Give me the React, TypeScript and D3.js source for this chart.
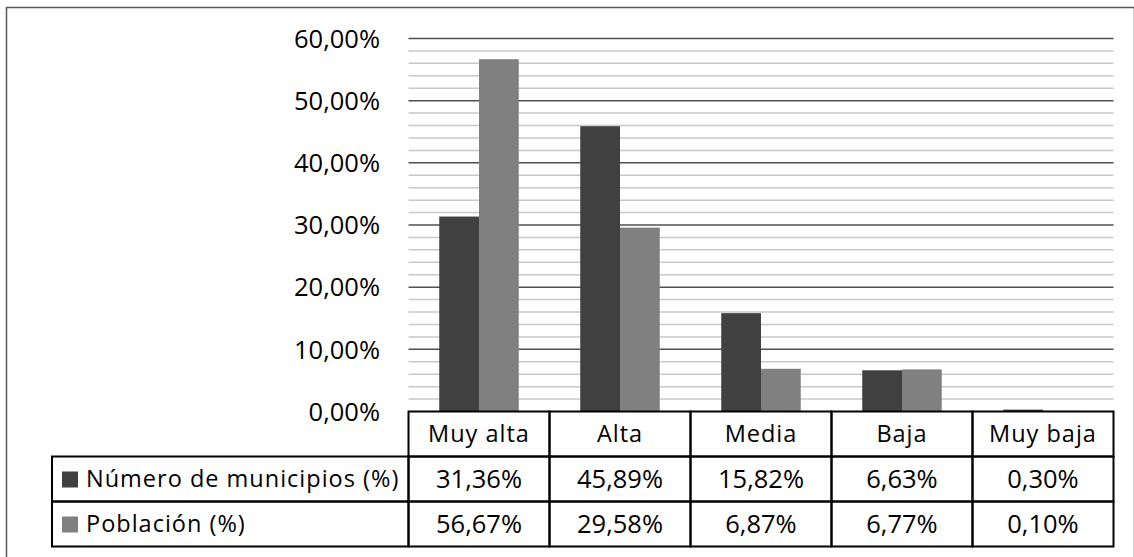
import { useEffect, useRef } from 'react'
import * as d3 from 'd3'

const categories = ['Muy alta', 'Alta', 'Media', 'Baja', 'Muy baja']
const seriesNames = ['Número de municipios (%)', 'Población (%)']
const municipios = [31.36, 45.89, 15.82, 6.63, 0.3]
const poblacion = [56.67, 29.58, 6.87, 6.77, 0.1]
const yTicks = [0, 10, 20, 30, 40, 50, 60]

const colors = ['#404040', '#808080']
const fmt = (v: number) => v.toFixed(2).replace('.', ',') + '%'

export default function App() {
  const svgRef = useRef<SVGSVGElement>(null)

  useEffect(() => {
    if (!svgRef.current) return
    const svg = d3.select(svgRef.current)
    svg.selectAll('*').remove()

    const W = 1134
    const H = 557
    svg.attr('width', W).attr('height', H)

    const font = '"Open Sans", sans-serif'
    const numSize = '25.5px'
    const wordSize = '23.5px'
    const wordSpacing = '1px'
    const series = [municipios, poblacion]

    // outer frame (cut off at right/bottom like the original)
    svg.append('rect')
      .attr('x', 6.5).attr('y', 7.5)
      .attr('width', W - 6).attr('height', H)
      .attr('fill', 'none')
      .attr('stroke', '#595959')
      .attr('stroke-width', 1.5)

    const x = d3.scaleBand<string>()
      .domain(categories)
      .range([408.5, 1113.5])
    const y = d3.scaleLinear()
      .domain([0, 60])
      .range([411.5, 38.5])

    const gap = x.bandwidth() * 0.218
    const xSub = d3.scaleBand<number>()
      .domain([0, 1])
      .range([gap, x.bandwidth() - gap])

    // minor gridlines
    const minor = d3.range(2, 60, 2).filter(v => v % 10 !== 0)
    svg.append('g')
      .selectAll('line')
      .data(minor)
      .join('line')
      .attr('x1', 408.5).attr('x2', 1113.5)
      .attr('y1', d => y(d)).attr('y2', d => y(d))
      .attr('stroke', '#c8c8c8')
      .attr('stroke-width', 1.5)

    // major gridlines
    svg.append('g')
      .selectAll('line')
      .data(yTicks.filter(v => v > 0))
      .join('line')
      .attr('x1', 408.5).attr('x2', 1113.5)
      .attr('y1', d => y(d)).attr('y2', d => y(d))
      .attr('stroke', '#505050')
      .attr('stroke-width', 1.5)

    // y tick labels
    svg.append('g')
      .selectAll('text')
      .data(yTicks)
      .join('text')
      .attr('x', 380)
      .attr('y', d => y(d))
      .attr('dy', '0.36em')
      .attr('text-anchor', 'end')
      .attr('fill', '#000')
      .style('font-family', font)
      .style('font-size', numSize)
      .text(d => fmt(d))

    // bars
    series.forEach((vals, si) => {
      svg.append('g')
        .selectAll('rect')
        .data(vals)
        .join('rect')
        .attr('x', (_, i) => x(categories[i])! + xSub(si)!)
        .attr('width', xSub.bandwidth())
        .attr('y', d => y(d))
        .attr('height', d => y(0) - y(d))
        .attr('fill', colors[si])
    })

    // data table
    const rowTop = [411.5, 456.5, 501.5]
    const rowH = 45
    const legendLeft = 52
    const t = svg.append('g')

    // header row
    categories.forEach(c => {
      t.append('rect')
        .attr('x', x(c)!).attr('y', rowTop[0])
        .attr('width', x.bandwidth()).attr('height', rowH)
        .attr('fill', 'none').attr('stroke', '#000').attr('stroke-width', 2)
      t.append('text')
        .attr('x', x(c)! + x.bandwidth() / 2)
        .attr('y', rowTop[0] + rowH / 2)
        .attr('dy', '0.36em')
        .attr('text-anchor', 'middle')
        .style('font-family', font)
        .style('font-size', wordSize)
        .style('letter-spacing', wordSpacing)
        .text(c)
    })

    series.forEach((vals, si) => {
      const top = rowTop[si + 1]
      t.append('rect')
        .attr('x', legendLeft).attr('y', top)
        .attr('width', 408.5 - legendLeft).attr('height', rowH)
        .attr('fill', 'none').attr('stroke', '#000').attr('stroke-width', 2)
      t.append('rect')
        .attr('x', 62).attr('y', top + rowH / 2 - 7.5)
        .attr('width', 16).attr('height', 16)
        .attr('fill', colors[si])
      t.append('text')
        .attr('x', 86)
        .attr('y', top + rowH / 2)
        .attr('dy', '0.36em')
        .style('font-family', font)
        .style('font-size', wordSize)
        .style('letter-spacing', wordSpacing)
        .text(seriesNames[si])
      vals.forEach((v, i) => {
        t.append('rect')
          .attr('x', x(categories[i])!).attr('y', top)
          .attr('width', x.bandwidth()).attr('height', rowH)
          .attr('fill', 'none').attr('stroke', '#000').attr('stroke-width', 2)
        t.append('text')
          .attr('x', x(categories[i])! + x.bandwidth() / 2)
          .attr('y', top + rowH / 2)
          .attr('dy', '0.36em')
          .attr('text-anchor', 'middle')
          .style('font-family', font)
          .style('font-size', numSize)
          .text(fmt(v))
      })
    })
  }, [])

  return (
    <div style={{ position: 'absolute', left: 0, top: 0, background: '#fff' }}>
      <svg ref={svgRef} style={{ display: 'block' }}></svg>
    </div>
  )
}
